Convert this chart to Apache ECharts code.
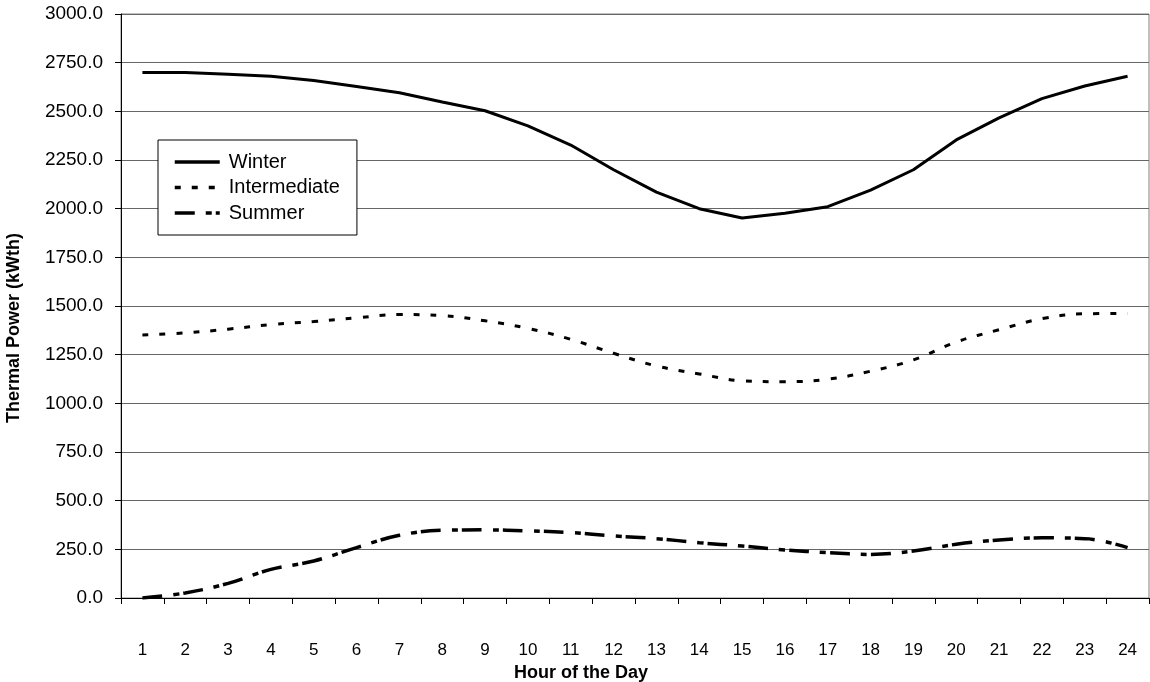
<!DOCTYPE html>
<html>
<head>
<meta charset="utf-8">
<script src="https://cdn.jsdelivr.net/npm/echarts@6/dist/echarts.min.js"></script>
<style>html,body{margin:0;padding:0;background:#fff}#c{width:1150px;height:682px}</style>
</head>
<body>
<div id="c"></div>
<script>
var hours = ['1','2','3','4','5','6','7','8','9','10','11','12','13','14','15','16','17','18','19','20','21','22','23','24'];
var winter = [2700, 2700, 2690, 2680, 2658, 2628, 2595, 2548, 2503, 2425, 2327, 2200, 2085, 2000, 1952, 1977, 2010, 2095, 2200, 2353, 2466, 2565, 2630, 2680];
var intermediate = [1351, 1362, 1381, 1405, 1420, 1439, 1456, 1451, 1424, 1385, 1329, 1257, 1192, 1151, 1116, 1111, 1124, 1165, 1223, 1315, 1378, 1435, 1460, 1462];
var summer = [0, 26, 75, 147, 190, 259, 322, 348, 350, 345, 336, 319, 305, 284, 267, 247, 233, 224, 241, 276, 298, 309, 305, 259];
var yTicks = {min: 0, max: 3000, interval: 250};

var FONT = 'Liberation Sans, Arial, sans-serif';
var chart = echarts.init(document.getElementById('c'));
chart.setOption({
  animation: false,
  backgroundColor: '#fff',
  grid: {left: 121, right: 1, top: 14, bottom: 84, containLabel: false, outerBoundsMode: 'none',
         show: true, borderColor: '#808080', borderWidth: 1},
  legend: {
    orient: 'vertical',
    left: 158, top: 140,
    padding: [12, 17, 12, 15],
    itemWidth: 45, itemHeight: 14, itemGap: 5.5,
    backgroundColor: '#fff',
    borderColor: '#000', borderWidth: 1,
    itemStyle: {opacity: 0, color: 'transparent', borderWidth: 0},
    lineStyle: {width: 3.5},
    textStyle: {fontFamily: FONT, fontSize: 20, color: '#000', lineHeight: 20, padding: [0, 0, 0, 4]},
    data: ['Winter', 'Intermediate', 'Summer']
  },
  xAxis: {
    type: 'category',
    data: hours,
    boundaryGap: true,
    name: 'Hour of the Day',
    nameLocation: 'middle',
    nameGap: 64,
    nameTextStyle: {fontFamily: FONT, fontSize: 18, fontWeight: 'bold', color: '#000', padding: [0, 108, 0, 0]},
    axisLine: {lineStyle: {color: '#000', width: 1}},
    axisTick: {show: true, length: 6, lineStyle: {color: '#000'}},
    axisLabel: {fontFamily: FONT, fontSize: 17, color: '#000', margin: 44},
    splitLine: {show: false}
  },
  yAxis: {
    type: 'value',
    min: yTicks.min, max: yTicks.max, interval: yTicks.interval,
    name: 'Thermal Power (kWth)',
    nameLocation: 'middle',
    nameRotate: 90,
    nameGap: 98,
    nameTextStyle: {fontFamily: FONT, fontSize: 18, fontWeight: 'bold', color: '#000', padding: [0, 44, 0, 0]},
    axisLine: {show: true, lineStyle: {color: '#000', width: 1}},
    axisTick: {show: true, length: 6, lineStyle: {color: '#000'}},
    axisLabel: {fontFamily: FONT, fontSize: 19, color: '#000', margin: 18, formatter: function (v) { return v.toFixed(1); }},
    splitLine: {show: true, lineStyle: {color: '#666', width: 1}}
  },
  series: [
    {name: 'Winter', type: 'line', data: winter, symbol: 'none', smooth: false,
     lineStyle: {color: '#000', width: 3, type: 'solid'}, itemStyle: {color: '#000'}},
    {name: 'Intermediate', type: 'line', data: intermediate, symbol: 'none', smooth: 0.4,
     lineStyle: {color: '#000', width: 3, type: [6, 11]}, itemStyle: {color: '#000'}},
    {name: 'Summer', type: 'line', data: summer, symbol: 'none', smooth: 0.4,
     lineStyle: {color: '#000', width: 3.5, type: [20, 11, 6, 4]}, itemStyle: {color: '#000'}}
  ]
});
</script>
</body>
</html>
